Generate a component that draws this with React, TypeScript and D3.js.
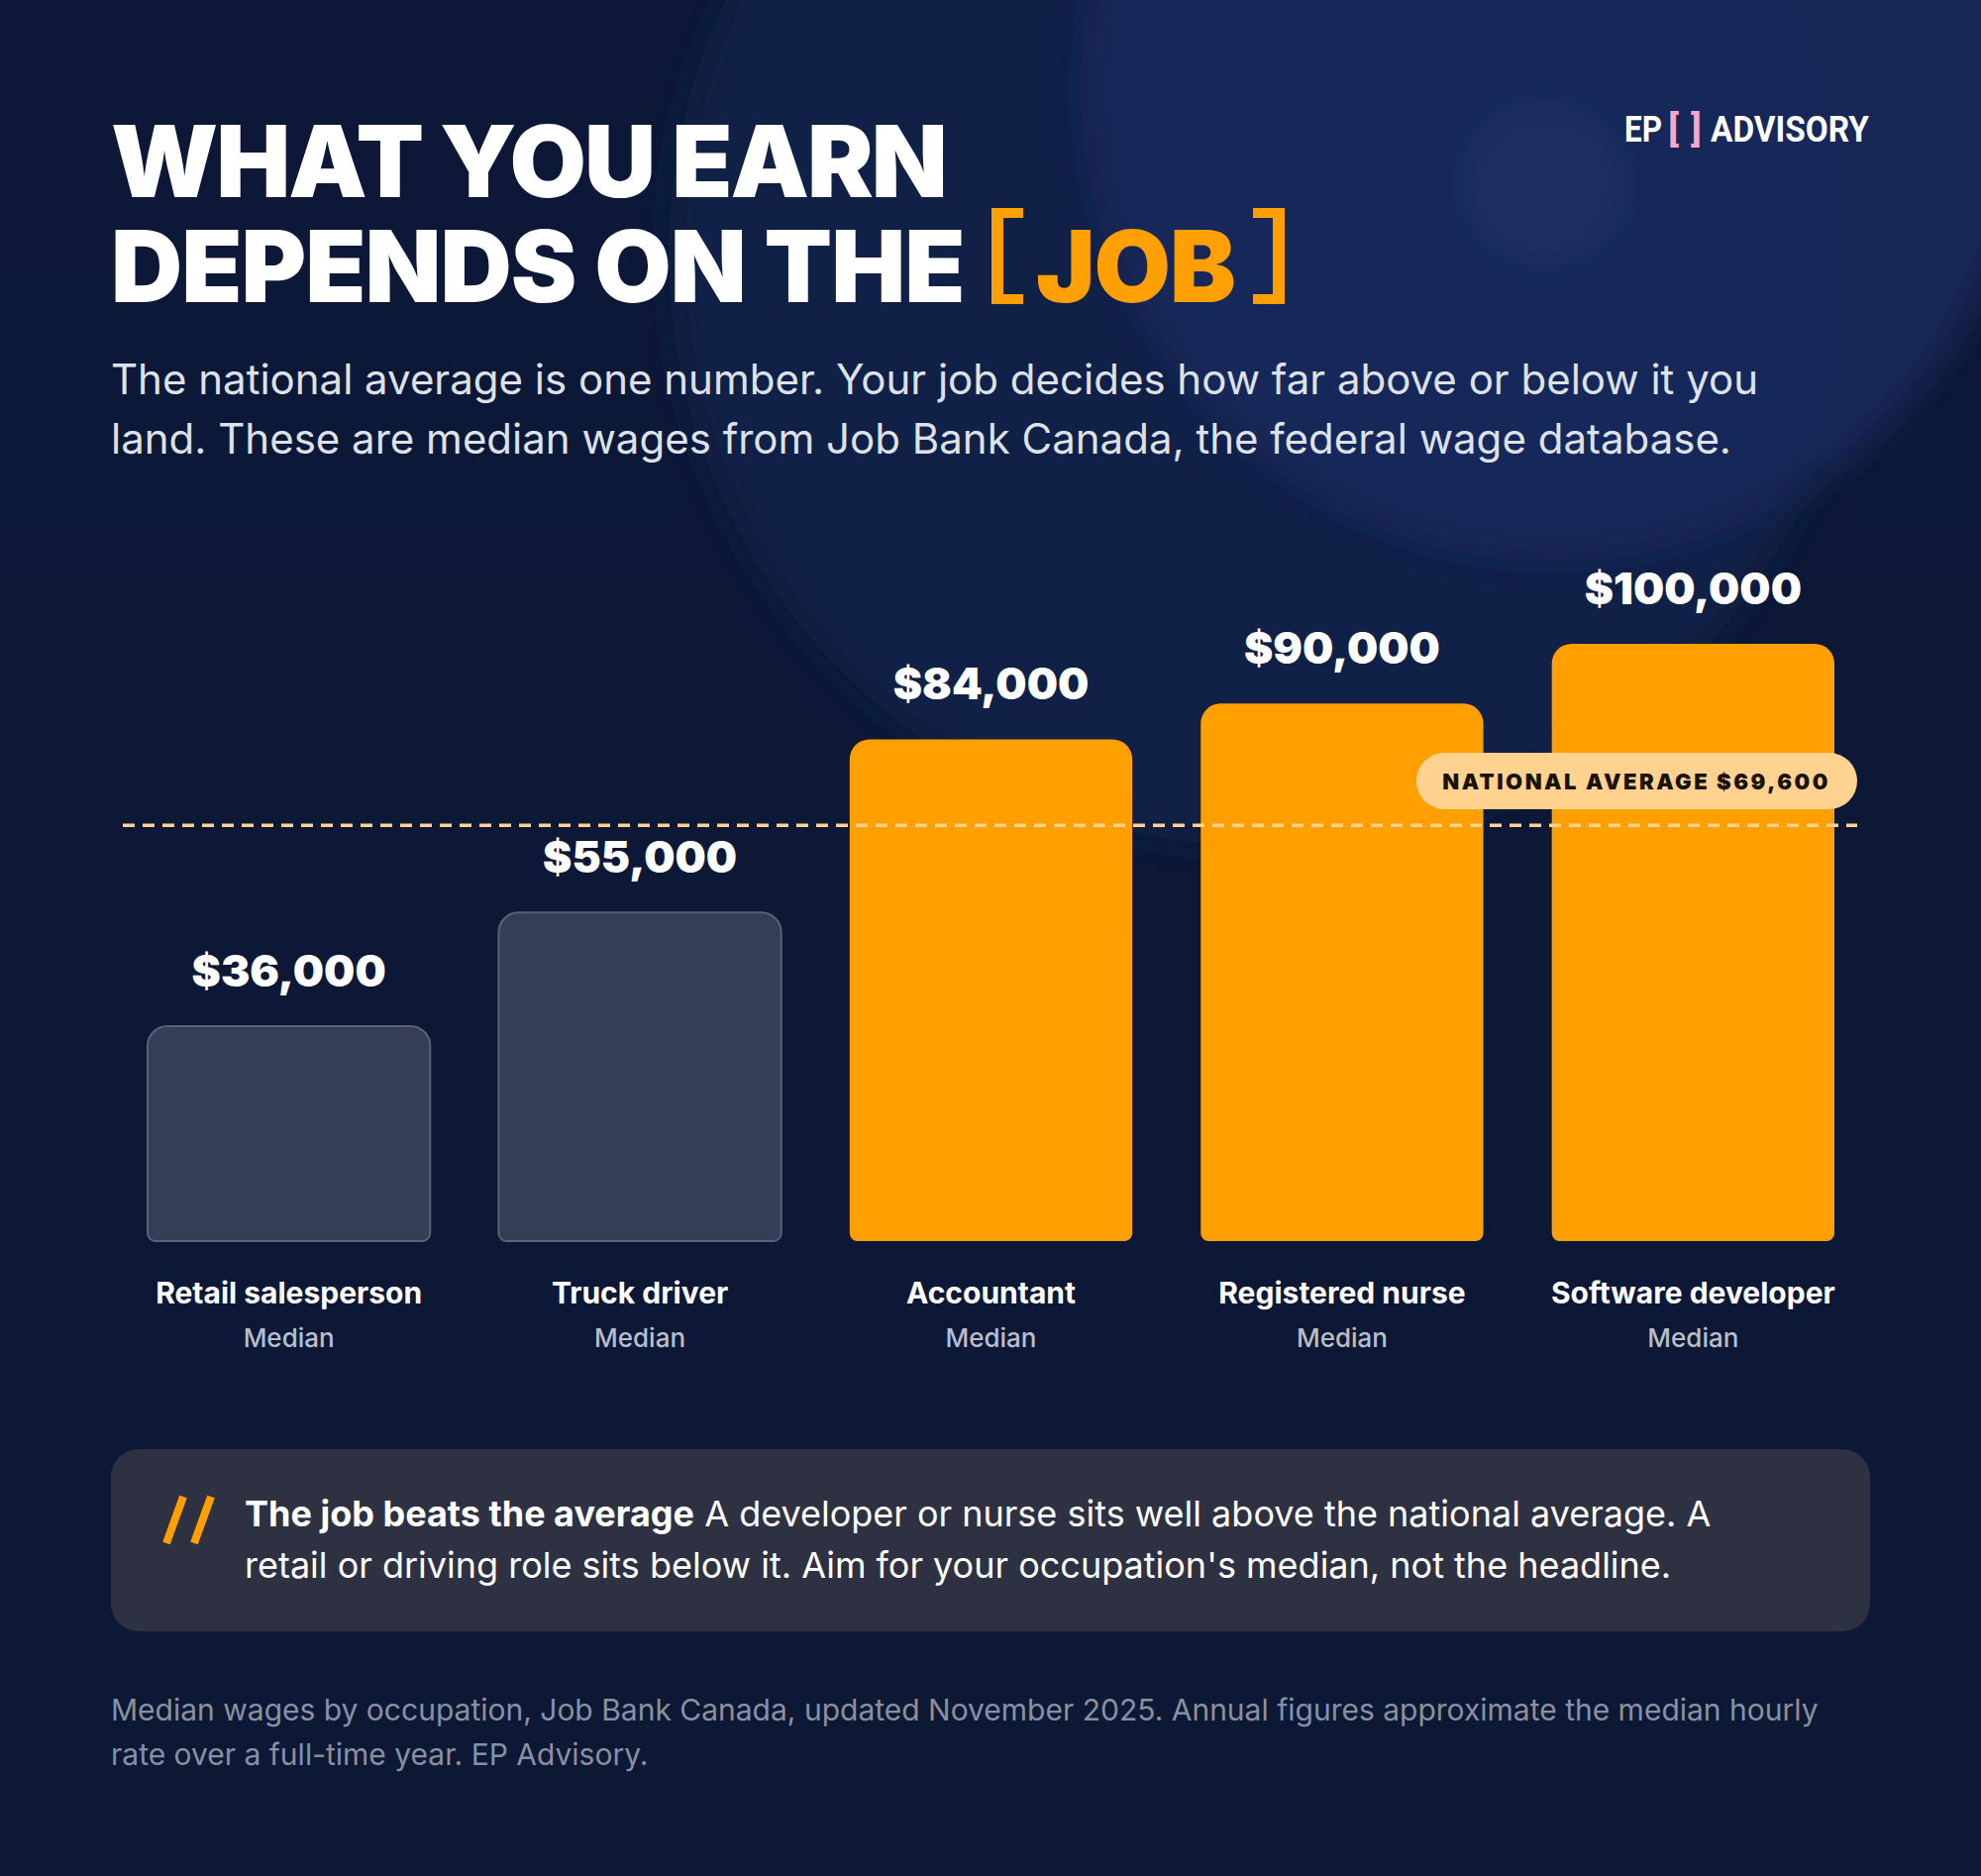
import React from "react";
import * as d3 from "d3";

const categories = ["Retail salesperson", "Truck driver", "Accountant", "Registered nurse", "Software developer"];
const wages = [36000, 55000, 84000, 90000, 100000];
const aboveAverage = [false, false, true, true, true];
const subLabel = "Median";
const nationalAverage = 69600;
const yDomain = [0, 100000];

const W = 2000;
const H = 1894;
const FONT = "Inter, 'Noto Sans', sans-serif";

function barPath(x: number, y: number, w: number, h: number, rt: number, rb: number) {
  const p = d3.path();
  p.moveTo(x, y + rt);
  p.arcTo(x, y, x + rt, y, rt);
  p.lineTo(x + w - rt, y);
  p.arcTo(x + w, y, x + w, y + rt, rt);
  p.lineTo(x + w, y + h - rb);
  p.arcTo(x + w, y + h, x + w - rb, y + h, rb);
  p.lineTo(x + rb, y + h);
  p.arcTo(x, y + h, x, y + h - rb, rb);
  p.closePath();
  return p.toString();
}

export default function App() {
  const x = d3.scaleBand<string>().domain(categories).range([149, 1852]).paddingInner(0.195).paddingOuter(0);
  const y = d3.scaleLinear().domain(yDomain).range([1253, 650]);
  const fmt = (v: number) => "$" + d3.format(",")(v);
  const avgY = y(nationalAverage);

  return (
    <svg width={W} height={H} viewBox={`0 0 ${W} ${H}`} style={{ position: "absolute", left: 0, top: 0, display: "block" }}>
      <defs>
        <filter id="blur" x="-50%" y="-50%" width="200%" height="200%">
          <feGaussianBlur stdDeviation="18" />
        </filter>
        <linearGradient id="bgGrad" x1="0" y1="0" x2="0" y2="1">
          <stop offset="0" stopColor="#0D1838" />
          <stop offset="1" stopColor="#0C1834" />
        </linearGradient>
      </defs>
      <rect width={W} height={H} fill="url(#bgGrad)" />
      <g filter="url(#blur)">
        <circle cx={1275} cy={255} r={600} fill="#13214C" opacity={0.7} />
        <circle cx={1569} cy={89} r={478} fill="#1A2A5E" opacity={0.8} />
        <circle cx={1559} cy={185} r={84} fill="#22336C" opacity={0.5} />
      </g>

      {/* Title */}
      <text fontFamily={FONT} fontWeight={900} fontSize={100} fill="#FFFFFF">
        <tspan x={112} y={199} letterSpacing={-2}>WHAT YOU EARN</tspan>
        <tspan x={112} y={305} letterSpacing={-1}>DEPENDS ON THE</tspan>
      </text>
      <g fill="#FFA000">
        <path d="M1001,210 H1033 V220 H1013 V297 H1033 V307 H1001 Z" />
        <path d="M1297,210 H1265 V220 H1285 V297 H1265 V307 H1297 Z" />
        <text x={1046} y={305} fontFamily={FONT} fontWeight={900} fontSize={100} letterSpacing={-1}>JOB</text>
      </g>

      {/* Logo */}
      <g fontFamily="Roboto, sans-serif" fontWeight={700} fontSize={37}>
        <text x={1640} y={143} fill="#FFFFFF" textLength={38} lengthAdjust="spacingAndGlyphs">EP</text>
        <text x={1684} y={143} fill="#F7A8C8" textLength={11} lengthAdjust="spacingAndGlyphs">[</text>
        <text x={1707} y={143} fill="#F7A8C8" textLength={11} lengthAdjust="spacingAndGlyphs">]</text>
        <text x={1727} y={143} fill="#FFFFFF" textLength={160} lengthAdjust="spacingAndGlyphs">ADVISORY</text>
      </g>

      {/* Subtitle */}
      <text fontFamily={FONT} fontWeight={400} fontSize={42} fill="#DDE1EA">
        <tspan x={112} y={398}>The national average is one number. Your job decides how far above or below it you</tspan>
        <tspan x={112} y={458}>land. These are median wages from Job Bank Canada, the federal wage database.</tspan>
      </text>

      {/* Bars */}
      {categories.map((c, i) => {
        const bx = x(c) as number;
        const bw = x.bandwidth();
        const top = y(wages[i]);
        const h = y(0) - top;
        const hi = aboveAverage[i];
        return (
          <path
            key={c}
            d={barPath(bx, top, bw, h, 20, 8)}
            fill={hi ? "#FFA000" : "#363D56"}
            stroke={hi ? "none" : "#5A6178"}
            strokeWidth={hi ? 0 : 2}
          />
        );
      })}

      {/* National average line */}
      <line x1={124} x2={1875} y1={avgY} y2={avgY} stroke="#FFD38F" strokeWidth={3.5} strokeDasharray="12 8" />

      {/* Value labels */}
      {categories.map((c, i) => {
        const cx = (x(c) as number) + x.bandwidth() / 2;
        return (
          <text key={c} x={cx} y={y(wages[i]) - 40} textAnchor="middle" fontFamily={FONT} fontWeight={900} fontSize={44} fill="#FFFFFF">
            {fmt(wages[i])}
          </text>
        );
      })}

      {/* Badge */}
      <rect x={1430} y={760} width={445} height={57} rx={28.5} fill="#FFD38F" />
      <text x={1652} y={797} textAnchor="middle" fontFamily={FONT} fontWeight={900} fontSize={22} letterSpacing={2.5} fill="#1A1205">
        NATIONAL AVERAGE {fmt(nationalAverage)}
      </text>

      {/* Category labels */}
      {categories.map((c) => {
        const cx = (x(c) as number) + x.bandwidth() / 2;
        return (
          <g key={c} fontFamily={FONT} textAnchor="middle">
            <text x={cx} y={1316} fontWeight={700} fontSize={30} fill="#FFFFFF">{c}</text>
            <text x={cx} y={1360} fontWeight={500} fontSize={26} fill="#B9BECB">{subLabel}</text>
          </g>
        );
      })}

      {/* Callout */}
      <rect x={112} y={1463} width={1776} height={184} rx={28} fill="#2D3142" />
      <g stroke="#FFA000" strokeWidth={8}>
        <line x1={185} y1={1511} x2={168} y2={1558} />
        <line x1={213} y1={1511} x2={196} y2={1558} />
      </g>
      <text fontFamily={FONT} fontSize={36} fill="#FFFFFF">
        <tspan x={247} y={1541} fontWeight={700}>The job beats the average</tspan>
        <tspan fontWeight={400}> A developer or nurse sits well above the national average. A</tspan>
        <tspan x={247} y={1593} fontWeight={400}>retail or driving role sits below it. Aim for your occupation's median, not the headline.</tspan>
      </text>

      {/* Footer */}
      <text fontFamily={FONT} fontSize={30} fill="#8A90A3">
        <tspan x={112} y={1737}>Median wages by occupation, Job Bank Canada, updated November 2025. Annual figures approximate the median hourly</tspan>
        <tspan x={112} y={1782}>rate over a full-time year. EP Advisory.</tspan>
      </text>
    </svg>
  );
}
